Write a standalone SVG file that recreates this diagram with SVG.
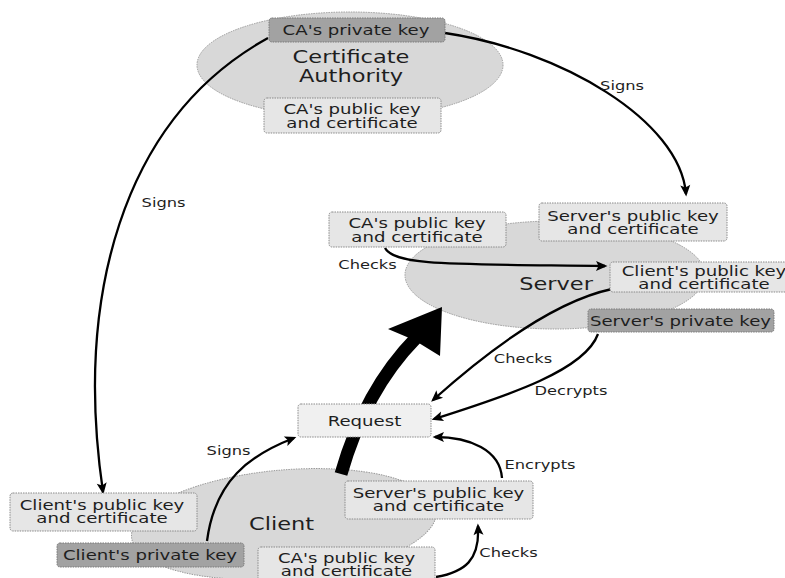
<svg xmlns="http://www.w3.org/2000/svg" width="785" height="578" viewBox="0 0 785 578">
  <defs>
    <style>
      .ell{fill:#d8d8d8;stroke:#9a9a9a;stroke-width:1;stroke-dasharray:1.5 1}
      .box{fill:#e6e6e6;stroke:#8a8a8a;stroke-width:1;stroke-dasharray:1.5 1}
      .req{fill:#f0f0f0;stroke:#8a8a8a;stroke-width:1;stroke-dasharray:1.5 1}
      .key{fill:#a2a2a2;stroke:#7a7a7a;stroke-width:1;stroke-dasharray:1.5 1}
      text{font-family:"DejaVu Sans","Liberation Sans",sans-serif;fill:#1e1e1e;text-anchor:middle}
      .big{font-size:18px}
      .bt{font-size:14.5px}
      .lbl{font-size:13px}
      .con{fill:none;stroke:#000;stroke-width:2.3;marker-end:url(#ah)}
    </style>
    <marker id="ah" viewBox="-10 -6 13 12" refX="0" refY="0" markerWidth="13" markerHeight="12" markerUnits="userSpaceOnUse" orient="auto">
      <path d="M2.5,0 L-9,-5 L-6.5,0 L-9,5 z" fill="#000"/>
    </marker>
  </defs>

  <rect width="785" height="578" fill="#fff"/>

  <!-- actor areas -->
  <g id="ca">
    <ellipse class="ell" cx="350" cy="65" rx="153" ry="53"/>
    <text class="big" transform="translate(351,63) scale(1.25,1)">Certificate</text>
    <text class="big" transform="translate(351,82) scale(1.25,1)">Authority</text>
  </g>
  <g id="server">
    <ellipse class="ell" cx="555" cy="275" rx="150" ry="54"/>
    <text class="big" transform="translate(556,290) scale(1.25,1)">Server</text>
  </g>
  <g id="client">
    <ellipse class="ell" cx="284" cy="524" rx="153" ry="54" transform="rotate(-5 284 524)"/>
    <text class="big" transform="translate(281.5,530) scale(1.25,1)">Client</text>
  </g>

  <!-- connectors -->
  <g id="connectors">
    <path class="con" d="M445,33 C560,50 680,120 686,194"/>
    <path class="con" d="M268,38 C120,120 75,300 103,492"/>
    <path class="con" d="M385,248 C395,266 450,264 605,266"/>
    <path class="con" d="M612,289 C560,300 500,340 433,400"/>
    <path class="con" d="M598,334 C585,370 510,395 434,419"/>
    <path class="con" d="M502,478 C500,450 470,437 435,437"/>
    <path class="con" d="M207,541 C215,480 250,455 294,438"/>
    <path class="con" d="M436,577 C465,572 480,560 478,526"/>
    <path d="M341,474 Q365,390 416,338" fill="none" stroke="#000" stroke-width="13"/>
    <polygon points="442,307 440,356 414,340 388,329" fill="#000"/>
    <text class="lbl" transform="translate(622,90) scale(1.25,1)">Signs</text>
    <text class="lbl" transform="translate(163.5,207) scale(1.25,1)">Signs</text>
    <text class="lbl" transform="translate(367.5,269) scale(1.25,1)">Checks</text>
    <text class="lbl" transform="translate(523,363) scale(1.25,1)">Checks</text>
    <text class="lbl" transform="translate(571,395) scale(1.25,1)">Decrypts</text>
    <text class="lbl" transform="translate(228.5,455) scale(1.25,1)">Signs</text>
    <text class="lbl" transform="translate(540,469) scale(1.25,1)">Encrypts</text>
    <text class="lbl" transform="translate(508.5,557) scale(1.25,1)">Checks</text>
  </g>

  <!-- key and certificate items -->
  <g id="ca-private-key">
    <rect class="key" x="269" y="18" width="176" height="24" rx="3"/>
    <text class="bt" transform="translate(356,35) scale(1.25,1)">CA's private key</text>
  </g>
  <g id="ca-public-cert">
    <rect class="box" x="264" y="98" width="177" height="35" rx="3"/>
    <text class="bt" transform="translate(352,114) scale(1.25,1)">CA's public key</text>
    <text class="bt" transform="translate(352,127.5) scale(1.25,1)">and certificate</text>
  </g>

  <g id="server-ca-cert">
    <rect class="box" x="329" y="212" width="177" height="35" rx="3"/>
    <text class="bt" transform="translate(417,228) scale(1.25,1)">CA's public key</text>
    <text class="bt" transform="translate(417,241.5) scale(1.25,1)">and certificate</text>
  </g>
  <g id="server-public-cert">
    <rect class="box" x="539" y="203" width="188" height="38" rx="3"/>
    <text class="bt" transform="translate(633,221) scale(1.25,1)">Server's public key</text>
    <text class="bt" transform="translate(633,234) scale(1.25,1)">and certificate</text>
  </g>
  <g id="server-client-cert">
    <rect class="box" x="610" y="262" width="188" height="30" rx="3"/>
    <text class="bt" transform="translate(704,276) scale(1.25,1)">Client's public key</text>
    <text class="bt" transform="translate(704,289) scale(1.25,1)">and certificate</text>
  </g>
  <g id="server-private-key">
    <rect class="key" x="588" y="309" width="186" height="23" rx="3"/>
    <text class="bt" transform="translate(680.5,326) scale(1.25,1)">Server's private key</text>
  </g>

  <g id="request">
    <rect class="req" x="298" y="404" width="133" height="33" rx="3"/>
    <text class="bt" transform="translate(364.5,425.5) scale(1.25,1)">Request</text>
  </g>

  <g id="client-public-cert">
    <rect class="box" x="10" y="493" width="187" height="38" rx="3"/>
    <text class="bt" transform="translate(102,509.5) scale(1.25,1)">Client's public key</text>
    <text class="bt" transform="translate(102,523) scale(1.25,1)">and certificate</text>
  </g>
  <g id="client-private-key">
    <rect class="key" x="57" y="543" width="187" height="24" rx="3"/>
    <text class="bt" transform="translate(150,560) scale(1.25,1)">Client's private key</text>
  </g>
  <g id="client-server-cert">
    <rect class="box" x="345" y="481" width="188" height="38" rx="3"/>
    <text class="bt" transform="translate(438.5,497.5) scale(1.25,1)">Server's public key</text>
    <text class="bt" transform="translate(438.5,511) scale(1.25,1)">and certificate</text>
  </g>
  <g id="client-ca-cert">
    <rect class="box" x="258" y="547" width="177" height="40" rx="3"/>
    <text class="bt" transform="translate(346.5,563) scale(1.25,1)">CA's public key</text>
    <text class="bt" transform="translate(346.5,576) scale(1.25,1)">and certificate</text>
  </g>
</svg>
